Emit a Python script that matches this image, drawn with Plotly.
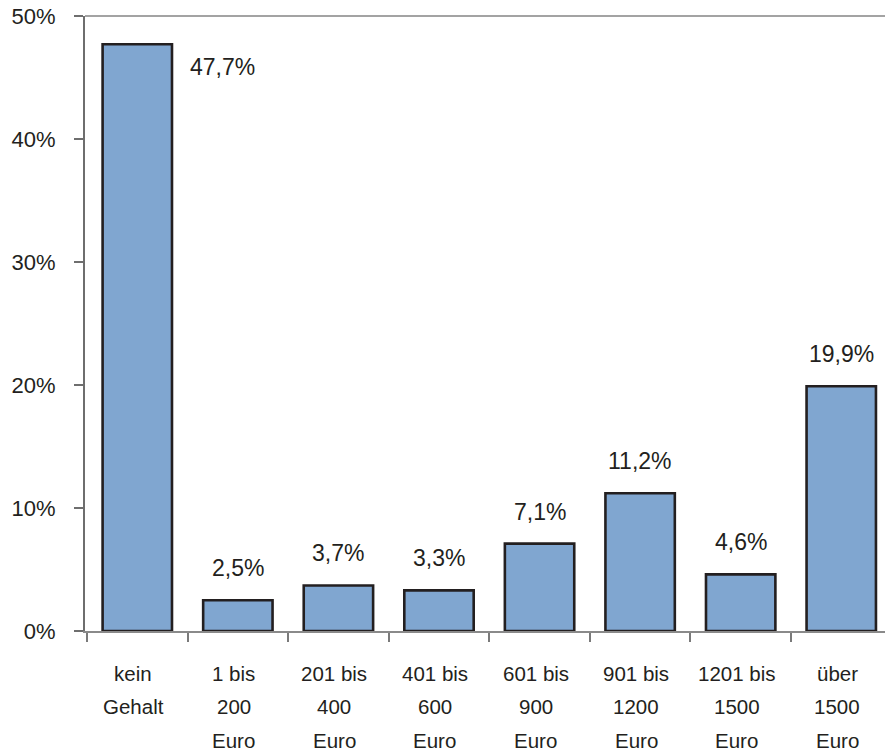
import plotly.graph_objects as go

# Monthly salary bands (Euro) and share of respondents in percent
categories = ["kein Gehalt", "1 bis 200 Euro", "201 bis 400 Euro", "401 bis 600 Euro",
              "601 bis 900 Euro", "901 bis 1200 Euro", "1201 bis 1500 Euro", "über 1500 Euro"]
label_lines = [
    ["kein", "Gehalt", ""],
    ["1 bis", "200", "Euro"],
    ["201 bis", "400", "Euro"],
    ["401 bis", "600", "Euro"],
    ["601 bis", "900", "Euro"],
    ["901 bis", "1200", "Euro"],
    ["1201 bis", "1500", "Euro"],
    ["über", "1500", "Euro"],
]
shares = [47.7, 2.5, 3.7, 3.3, 7.1, 11.2, 4.6, 19.9]
y_ticks = [0, 10, 20, 30, 40, 50]
y_tick_text = ["0%", "10%", "20%", "30%", "40%", "50%"]

TEXT = "#231F20"
FONT = "Liberation Sans, Arial, sans-serif"

fig = go.Figure(
    go.Bar(
        x=list(range(len(categories))),
        y=shares,
        width=0.69,
        marker=dict(color="#80A6D0", line=dict(color=TEXT, width=2.6)),
        hoverinfo="skip",
    )
)

annotations = []
# value labels: the tall first bar carries its label to the right, the rest above
for i, v in enumerate(shares):
    txt = f"{v:.1f}".replace(".", ",") + "%"
    if i == 0:
        annotations.append(dict(x=i, y=v, xref="x", yref="y", text=txt, showarrow=False,
                                xshift=85, yshift=-23, font=dict(size=23, color=TEXT, family=FONT)))
    else:
        annotations.append(dict(x=i, y=v, xref="x", yref="y", text=txt, showarrow=False,
                                yshift=32, font=dict(size=23, color=TEXT, family=FONT)))

# category labels, one annotation per line for wide line spacing
for i, lines in enumerate(label_lines):
    for j, line in enumerate(lines):
        if not line:
            continue
        annotations.append(dict(x=i, y=0, xref="x", yref="y", text=line, showarrow=False,
                                yshift=-(42 + 33.5 * j), xshift=-4,
                                font=dict(size=20.5, color=TEXT, family=FONT)))

fig.update_layout(
    width=885,
    height=751,
    margin=dict(l=85, r=0, t=16, b=120),
    paper_bgcolor="white",
    plot_bgcolor="white",
    showlegend=False,
    annotations=annotations,
    font=dict(family=FONT, color=TEXT),
    shapes=[dict(type="line", xref="paper", yref="paper", x0=0, x1=1, y0=1, y1=1,
                 line=dict(color="#A3A3A3", width=2.2))],
)

fig.update_xaxes(
    type="linear",
    range=[-0.52, 7.435],
    showgrid=False,
    zeroline=False,
    showline=True,
    linecolor="#8A8A8A",
    linewidth=2,
    tickmode="array",
    tickvals=[k - 0.5 for k in range(len(categories) + 1)],
    ticks="outside",
    ticklen=9,
    tickwidth=1.5,
    tickcolor="#7A7A7A",
    showticklabels=False,
)

fig.update_yaxes(
    range=[0, 50],
    showgrid=False,
    zeroline=False,
    showline=True,
    linecolor="#6E6E6E",
    linewidth=2,
    tickmode="array",
    tickvals=y_ticks,
    ticktext=y_tick_text,
    ticks="outside",
    ticklen=9,
    tickwidth=1.5,
    tickcolor="#6E6E6E",
    ticklabelstandoff=14,
    tickfont=dict(size=22, color=TEXT, family=FONT),
)

fig.write_html("out.html")
